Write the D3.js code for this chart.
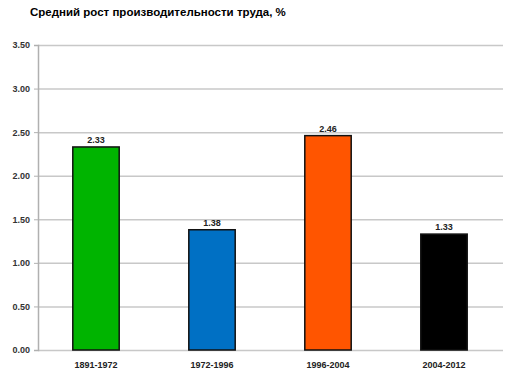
<!DOCTYPE html>
<html>
<head>
<meta charset="utf-8">
<script src="https://cdn.jsdelivr.net/npm/d3@7/dist/d3.min.js"></script>
<style>
	html, body { margin: 0; padding: 0; background: #fff; }
	svg { display: block; font-family: "Liberation Sans", Arial, sans-serif; }
</style>
</head>
<body>
<svg id="chart" width="508" height="378"></svg>
<script>
	// данные
	const periods = ['1891-1972', '1972-1996', '1996-2004', '2004-2012'];
	const growth = [2.33, 1.38, 2.46, 1.33];
	const barColors = ['#00b400', '#0070c4', '#ff5500', '#000000'];
	const yTicks = [0, 0.5, 1, 1.5, 2, 2.5, 3, 3.5];

	const svg = d3.select('#chart');
	const margin = {top: 45, right: 5, bottom: 28, left: 38};
	const width = 508 - margin.left - margin.right;
	const height = 378 - margin.top - margin.bottom;

	// заголовок
	svg.append('text')
		.attr('x', 30)
		.attr('y', 16)
		.attr('font-size', 11.5)
		.attr('font-weight', 'bold')
		.attr('fill', '#000')
		.text('Средний рост производительности труда, %');

	const g = svg.append('g')
		.attr('transform', `translate(${margin.left},${margin.top})`);

	const x = d3.scaleBand()
		.domain(periods)
		.range([0, 464])
		.paddingInner(0.6)
		.paddingOuter(0.3);

	const y = d3.scaleLinear()
		.domain([0, 3.5])
		.range([height, 0]);

	// сетка
	g.append('g')
		.selectAll('line')
		.data(yTicks)
		.enter().append('line')
		.attr('x1', 0)
		.attr('x2', width)
		.attr('y1', d => y(d) + 0.5)
		.attr('y2', d => y(d) + 0.5)
		.attr('stroke', '#c8c8c8')
		.attr('stroke-width', 1.5);

	// ось Y
	const yAxis = g.append('g')
		.call(d3.axisLeft(y).tickValues(yTicks).tickFormat(d3.format('.2f')).tickSize(4).tickPadding(4));
	yAxis.select('.domain').attr('stroke', '#b0b0b0').attr('stroke-width', 1.5);
	yAxis.selectAll('.tick line').attr('stroke', '#b0b0b0');
	yAxis.selectAll('text')
		.attr('font-size', 9)
		.attr('font-weight', 'bold')
		.attr('fill', '#333')
		.attr('font-family', '"Liberation Sans", Arial, sans-serif');

	// ось X
	const xAxis = g.append('g')
		.attr('transform', `translate(0,${height})`)
		.call(d3.axisBottom(x).tickSize(0).tickPadding(12));
	xAxis.select('.domain').remove();
	xAxis.selectAll('text')
		.attr('font-size', 9)
		.attr('font-weight', 'bold')
		.attr('fill', '#222')
		.attr('font-family', '"Liberation Sans", Arial, sans-serif');

	// столбцы
	g.selectAll('.bar')
		.data(growth)
		.enter().append('rect')
		.attr('class', 'bar')
		.attr('x', (d, i) => x(periods[i]))
		.attr('width', x.bandwidth())
		.attr('y', d => y(d))
		.attr('height', d => height - y(d))
		.attr('fill', (d, i) => barColors[i])
		.attr('stroke', '#111')
		.attr('stroke-width', 1.5);

	// подписи значений
	g.selectAll('.val')
		.data(growth)
		.enter().append('text')
		.attr('class', 'val')
		.attr('x', (d, i) => x(periods[i]) + x.bandwidth() / 2)
		.attr('y', d => y(d) - 4)
		.attr('text-anchor', 'middle')
		.attr('font-size', 9)
		.attr('font-weight', 'bold')
		.attr('fill', '#222')
		.text(d => d3.format('.2f')(d));
</script>
</body>
</html>
